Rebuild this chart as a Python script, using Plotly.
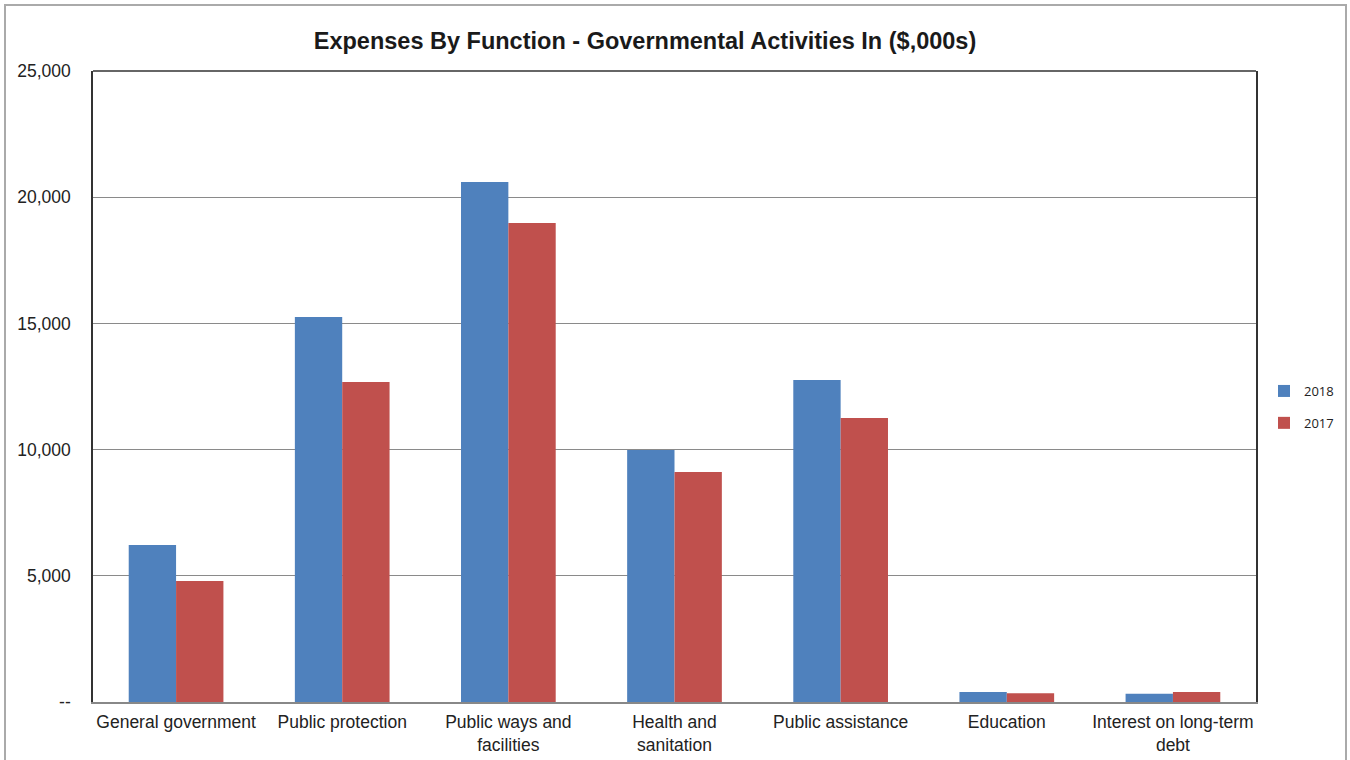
import plotly.graph_objects as go

categories = ["General government", "Public protection", "Public ways and<br>facilities",
              "Health and<br>sanitation", "Public assistance", "Education",
              "Interest on long-term<br>debt"]
values_2018 = [6220, 15250, 20600, 9980, 12760, 400, 330]
values_2017 = [4790, 12680, 18980, 9110, 11250, 345, 400]
tick_vals = [0, 5000, 10000, 15000, 20000, 25000]
tick_text = ["--", "5,000", "10,000", "15,000", "20,000", "25,000"]

fig = go.Figure()
fig.add_trace(go.Bar(name="2018", x=categories, y=values_2018, marker_color="#4F81BD",
                     marker_line_width=0, legendgroup="a"))
fig.add_trace(go.Bar(name="2017", x=categories, y=values_2017, marker_color="#C0504D",
                     marker_line_width=0, legendgroup="b"))

fig.update_layout(
    width=1350, height=760,
    margin=dict(l=93, r=94, t=71, b=58, autoexpand=False),
    paper_bgcolor="white", plot_bgcolor="white",
    barmode="group", bargap=0.43, bargroupgap=0,
    title=dict(text="<b>Expenses By Function - Governmental Activities In ($,000s)</b>",
               xref="paper", x=(645 - 93) / 1163, xanchor="center",
               yref="container", y=1 - 41 / 760, yanchor="middle",
               font=dict(family="Liberation Sans, Arial", size=23.5, color="#1a1a1a")),
    font=dict(family="Liberation Sans, Arial", size=17.5, color="#222"),
    legend=dict(x=(1264 - 93) / 1163, y=(702 - 407) / 631, xanchor="left", yanchor="middle",
                font=dict(family="Open Sans, Noto Sans", size=13, color="#222"),
                tracegroupgap=12, itemwidth=30, bgcolor="rgba(0,0,0,0)"),
    showlegend=True,
)
fig.update_xaxes(showline=True, linecolor="#888", linewidth=2, showgrid=False,
                 tickfont=dict(size=17.5), ticks="", ticklabelstandoff=3)
fig.update_yaxes(range=[0, 25000], tickvals=tick_vals, ticktext=tick_text,
                 showgrid=True, gridcolor="#8a8a8a", gridwidth=1,
                 showline=True, linecolor="#333", linewidth=1.5, mirror=True,
                 ticks="", ticklabelstandoff=17, zeroline=False,
                 tickfont=dict(size=17.5))
fig.add_shape(type="line", xref="paper", yref="paper", x0=0, x1=1, y0=1, y1=1,
              line=dict(color="#333", width=1.5))
fig.add_shape(type="rect", xref="paper", yref="paper",
              x0=(5 - 93) / 1163, x1=(1346 - 93) / 1163,
              y0=-0.3, y1=(702 - 5) / 631,
              line=dict(color="#aaa", width=2), layer="below")
fig.write_html("out.html", config={"displayModeBar": False},
               post_script="document.body.style.margin='0px';"
                           "document.body.style.overflow='hidden';")
